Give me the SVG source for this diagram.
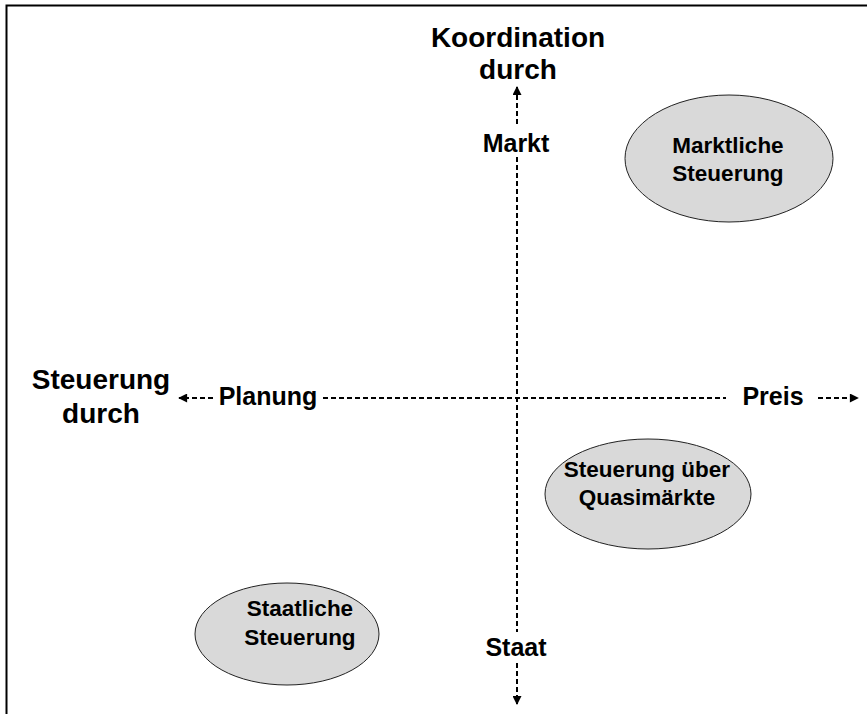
<svg xmlns="http://www.w3.org/2000/svg" width="867" height="714" viewBox="0 0 867 714">
<style>
.t{font-family:"Liberation Sans",Arial,sans-serif;font-weight:bold;fill:#000;text-anchor:middle}
.title{font-size:28px}
.lab{font-size:25px}
.nt{font-size:22.5px}
.ax{stroke:#000;stroke-width:2;stroke-dasharray:5,3;fill:none}
.el{fill:#d9d9d9;stroke:#222;stroke-width:1}
</style>
<defs>
<marker id="ah" viewBox="0 0 10 10" refX="9" refY="5" markerWidth="10" markerHeight="9" markerUnits="userSpaceOnUse" orient="auto">
<path d="M0,0 L10,5 L0,10 z" fill="#000"/>
</marker>
</defs>
<rect x="6.5" y="5.5" width="900" height="800" fill="#fff" stroke="#000" stroke-width="2"/>
<g id="connectors">
<path class="ax" d="M213,398 L179,398" marker-end="url(#ah)"/>
<path class="ax" d="M323,398 L726,398"/>
<path class="ax" d="M818,398 L858,398" marker-end="url(#ah)"/>
<path class="ax" d="M517,124 L517,87" marker-end="url(#ah)"/>
<path class="ax" d="M517,157 L517,632"/>
<path class="ax" d="M517,663 L517,704" marker-end="url(#ah)"/>
</g>
<g id="axis-y-title"><text class="t title" x="518" y="47">Koordination</text><text class="t title" x="518" y="79">durch</text></g>
<g id="axis-x-title"><text class="t title" x="101" y="389">Steuerung</text><text class="t title" x="101" y="423">durch</text></g>
<g id="markt"><text class="t lab" x="516" y="152">Markt</text></g>
<g id="staat"><text class="t lab" x="516" y="656">Staat</text></g>
<g id="planung"><text class="t lab" x="268" y="405">Planung</text></g>
<g id="preis"><text class="t lab" x="773" y="405">Preis</text></g>
<g id="marktliche"><ellipse class="el" cx="729" cy="158.5" rx="104" ry="63.5"/><text class="t nt" x="728" y="153">Marktliche</text><text class="t nt" x="728" y="181">Steuerung</text></g>
<g id="quasi"><ellipse class="el" cx="648" cy="494" rx="103" ry="55"/><text class="t nt" x="647" y="477">Steuerung über</text><text class="t nt" x="647" y="505">Quasimärkte</text></g>
<g id="staatliche"><ellipse class="el" cx="287" cy="634" rx="92" ry="51"/><text class="t nt" x="300" y="616">Staatliche</text><text class="t nt" x="300" y="645">Steuerung</text></g>
</svg>
